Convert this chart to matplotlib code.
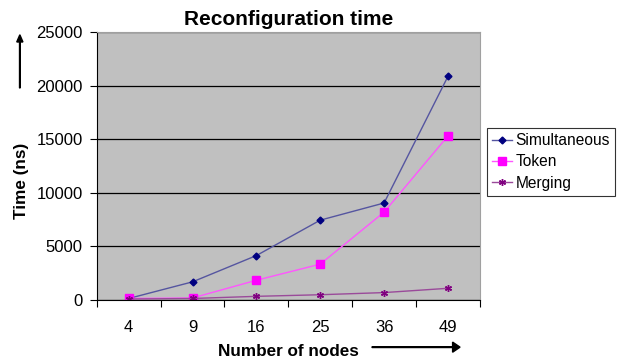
import numpy as np
import matplotlib.pyplot as plt

plt.rcParams['font.family'] = ['Liberation Sans', 'DejaVu Sans']

# Data
nodes = ['4', '9', '16', '25', '36', '49']
simultaneous = [150, 1700, 4150, 7450, 9050, 20850]
token = [150, 200, 1850, 3350, 8200, 15300]
merging = [100, 150, 350, 500, 700, 1100]

fig = plt.figure(figsize=(6.2, 3.62), dpi=100)
ax = fig.add_axes([0.156, 0.171, 0.618, 0.741])
ax.set_facecolor('#c0c0c0')

x = np.arange(len(nodes))
ax.plot(x, simultaneous, color='#5555a0', lw=1, marker='D', ms=3.5,
        mfc='#000080', mec='#000080', label='Simultaneous')
ax.plot(x, token, color='#ff55ff', lw=1, marker='s', ms=5.5,
        mfc='#ff00ff', mec='#ff00ff', label='Token')
ax.plot(x, merging, color='#9a4a9a', lw=1, marker=(6, 2, 0), ms=5,
        mfc='#800080', mec='#800080', label='Merging')

# Gridlines and axes
ax.set_ylim(0, 25000)
ax.set_yticks(np.arange(0, 25001, 5000))
ax.yaxis.grid(True, color='black', lw=0.9)
ax.set_axisbelow(True)
ax.set_xlim(-0.5, len(nodes) - 0.5)
ax.set_xticks(np.arange(-0.5, len(nodes), 1.0))
ax.set_xticklabels([])
ax.set_xticks(x, minor=True)
ax.set_xticklabels(nodes, minor=True)
ax.tick_params(axis='x', which='minor', length=0, pad=14, labelsize=12)
ax.tick_params(axis='x', which='major', length=5, direction='out')
ax.tick_params(axis='y', length=5, direction='out', labelsize=12, pad=5)
ax.spines['top'].set_color('#a0a0a0')
ax.spines['right'].set_color('#a0a0a0')

ax.set_title('Reconfiguration time', fontsize=15, fontweight='bold', pad=5)
fig.text(0.034, 0.50, 'Time (ns)', rotation=90, fontsize=12.3,
         fontweight='bold', ha='center', va='center')
fig.text(0.465, 0.028, 'Number of nodes', fontsize=12.3,
         fontweight='bold', ha='center', va='center')

# Arrows beside the axis labels
fig.patches.append(plt.matplotlib.patches.FancyArrow(
    0.032, 0.757, 0, 0.127, width=0.001, head_width=0.010,
    head_length=0.02, color='black', transform=fig.transFigure))
fig.patches.append(plt.matplotlib.patches.FancyArrow(
    0.60, 0.041, 0.130, 0, width=0.002, head_width=0.028,
    head_length=0.012, color='black', transform=fig.transFigure))

leg = ax.legend(loc='upper left', bbox_to_anchor=(0.785, 0.647),
                bbox_transform=fig.transFigure, fontsize=11.2,
                frameon=True, fancybox=False, edgecolor='black',
                handlelength=1.3, handletextpad=0.2, borderpad=0.35,
                labelspacing=0.4, borderaxespad=0)
leg.get_frame().set_linewidth(0.8)

fig.savefig('out.png', dpi=100)
